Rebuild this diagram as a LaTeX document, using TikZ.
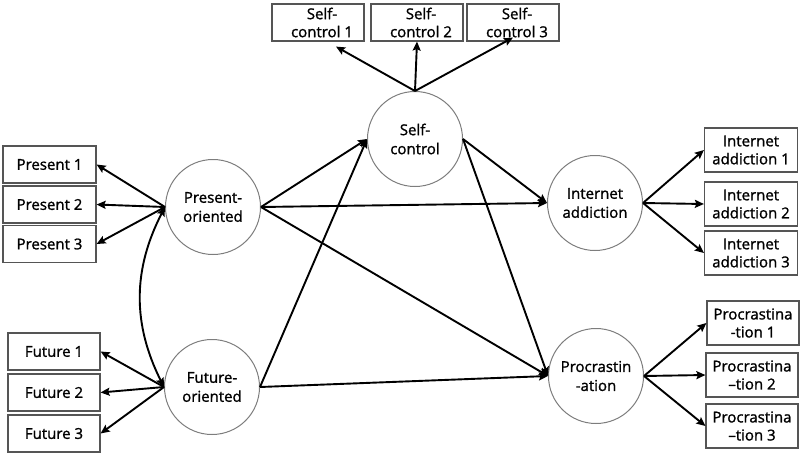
\documentclass[tikz,border=0pt]{standalone}
\usepackage{fontspec}
\setmainfont{Open Sans}[FakeBold=1.3]
\usepackage{tikz}
\usetikzlibrary{arrows.meta,positioning,shapes}

\begin{document}
\begin{tikzpicture}[x=1pt,y=-1pt,>={Stealth[length=9pt,width=8pt,inset=1.5pt]},
    latent/.style={circle,draw=cRing,line width=1pt,minimum size=95pt,inner sep=0pt,align=center,font=\fontsize{15}{19}\selectfont},
    obs/.style={rectangle,draw=cBox,line width=1.2pt,minimum width=92pt,minimum height=37pt,inner sep=1pt,align=center,font=\fontsize{15}{18}\selectfont},
    obs2/.style={obs,minimum height=44pt},
    path/.style={->,line width=1.9pt}]
    \definecolor{cRing}{RGB}{125,125,125}\definecolor{cBox}{RGB}{85,85,85}
    \useasboundingbox (0,0) rectangle (802,455);
    % latent variables
    \node[latent] (pres) at (213,207) {Present-\\oriented};
    \node[latent] (fut)  at (212,387) {Future-\\oriented};
    \node[latent] (self) at (415,139) {Self-\\control};
    \node[latent] (inet) at (595,203) {Internet\\addiction};
    \node[latent] (proc) at (596,376) {Procrastin\\-ation};
    % indicators
    \foreach \i/\y in {1/164.5,2/204.5,3/244}{
       \node[obs,minimum width=93pt] (pr\i) at (49.5,\y) {Present \i};
       \draw[path] (pres.west) -- (pr\i.east);
    }
    \foreach \i/\y in {1/351.5,2/392.5,3/433.5}{
       \node[obs] (fu\i) at (54,\y) {Future \i};
       \draw[path] (fut.west) -- (fu\i.east);
    }
    \foreach \i/\x in {1/318,2/417,3/513}{
       \node[obs] (sc\i) at (\x,22.5) {\hspace*{8pt}Self-\\\hspace*{8pt}control \i};
    }
    \draw[path] (self.north) -- ([xshift=18pt,yshift=-5pt]sc1.south);
    \draw[path] (self.north) -- (sc2.south);
    \draw[path] (self.north) -- ([yshift=4pt]sc3.south);
    \foreach \i/\y in {1/150,2/204,3/253}{
       \node[obs2,minimum width=93pt] (ia\i) at (751,\y) {Internet\\addiction \i};
       \draw[path] (inet.east) -- (ia\i.west);
    }
    \node[obs2] (pc1) at (753,323) {Procrastina\\-tion 1};
    \node[obs2] (pc2) at (752,375) {Procrastina\\--tion 2};
    \node[obs2] (pc3) at (752,426) {Procrastina\\--tion 3};
    \foreach \i in {1,2,3}{\draw[path] (proc.east) -- (pc\i.west);}
    % structural paths
    \draw[path] (pres.east) -- (self.west);
    \draw[path] (pres.east) -- (inet.west);
    \draw[path] (pres.east) -- (proc.west);
    \draw[path] (fut.east) -- (self.west);
    \draw[path] (fut.east) -- (proc.west);
    \draw[path] (self.east) -- (inet.west);
    \draw[path] (self.east) -- (proc.west);
    % covariance
    \draw[path,<->] (pres.west) to[bend right=27] (fut.west);
  \end{tikzpicture}
\end{document}
